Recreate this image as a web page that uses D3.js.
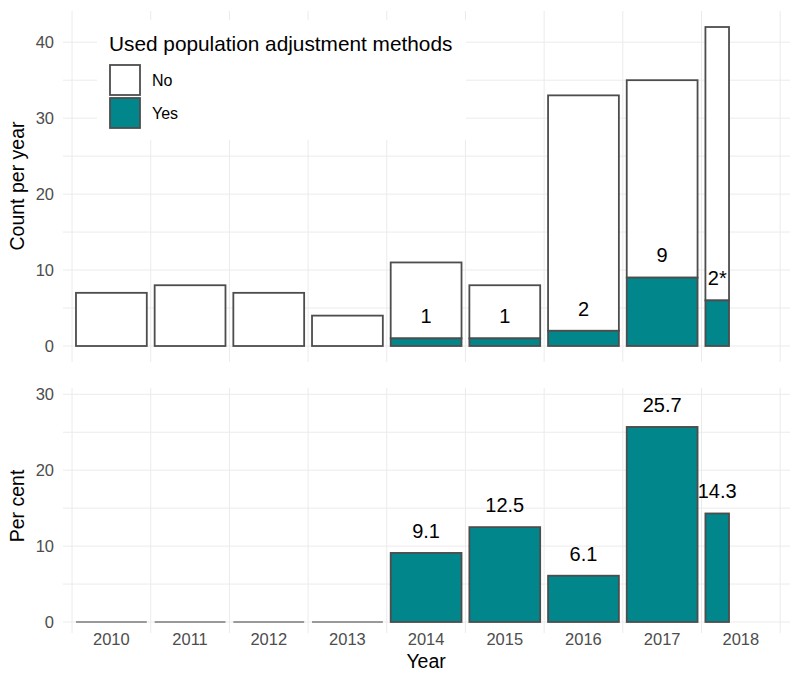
<!DOCTYPE html>
<html><head><meta charset="utf-8">
<script src="https://cdn.jsdelivr.net/npm/d3@7"></script>
<style>body{margin:0;background:#fff}svg{display:block;font-family:"Liberation Sans",Arial,sans-serif}</style>
</head><body><svg id="c" width="800" height="680"></svg>
<script>
const years = [2010,2011,2012,2013,2014,2015,2016,2017,2018];
const total = [7,8,7,4,11,8,33,35,42];
const yes   = [0,0,0,0,1,1,2,9,6];
const percent = [0,0,0,0,9.1,12.5,6.1,25.7,14.3];
const barWidth = [0.9,0.9,0.9,0.9,0.9,0.9,0.9,0.9,0.3];
const countLabels = ["","","","","1","1","2","9","2*"];
const pctLabels = ["","","","","9.1","12.5","6.1","25.7","14.3"];
const yTicksTop = [0,10,20,30,40];
const yTicksBot = [0,10,20,30];
const legendItems = ["No","Yes"];
const teal = "#00868B", edge = "#4d4d4d", grid = "#ebebeb";

const svg = d3.select("#c");
const x = d3.scaleLinear().domain([2009.385, 2018.625]).range([63, 790]);
const yT = d3.scaleLinear().domain([0, 40]).range([346, 42.2]);
const yB = d3.scaleLinear().domain([0, 30]).range([622, 394.3]);

function panel(y, top, bottom, majors, minors) {
  const g = svg.append("g");
  g.selectAll(".hg").data(minors.concat(majors)).join("line")
    .attr("x1", 63).attr("x2", 790).attr("y1", d => y(d)).attr("y2", d => y(d))
    .attr("stroke", grid).attr("stroke-width", 1);
  const vx = d3.range(2009.5, 2019, 1);
  g.selectAll(".vg").data(vx).join("line")
    .attr("x1", d => x(d)).attr("x2", d => x(d)).attr("y1", top).attr("y2", bottom)
    .attr("stroke", grid).attr("stroke-width", 1);
  g.selectAll(".yl").data(majors).join("text")
    .attr("x", 54).attr("y", d => y(d)).attr("dy", "0.36em").attr("text-anchor", "end")
    .attr("font-size", 16.5).attr("fill", "#4d4d4d").text(d => d);
}
panel(yT, 11, 362, yTicksTop, [5,15,25,35]);
panel(yB, 388, 633, yTicksBot, [5,15,25]);

// legend background
svg.append("rect").attr("x", 97).attr("y", 20).attr("width", 369).attr("height", 120).attr("fill", "#fff");

const data = years.map((yr, i) => ({yr, total: total[i], yes: yes[i], pct: percent[i], w: barWidth[i], cl: countLabels[i], pl: pctLabels[i]}));

// top panel bars
const gt = svg.append("g");
gt.selectAll(".no").data(data).join("rect")
  .attr("x", d => x(d.yr - 0.45)).attr("width", d => x(d.yr - 0.45 + d.w) - x(d.yr - 0.45))
  .attr("y", d => yT(d.total)).attr("height", d => yT(d.yes) - yT(d.total))
  .attr("fill", "#fff").attr("stroke", edge).attr("stroke-width", 1.8);
gt.selectAll(".yes").data(data.filter(d => d.yes > 0)).join("rect")
  .attr("x", d => x(d.yr - 0.45)).attr("width", d => x(d.yr - 0.45 + d.w) - x(d.yr - 0.45))
  .attr("y", d => yT(d.yes)).attr("height", d => yT(0) - yT(d.yes))
  .attr("fill", teal).attr("stroke", edge).attr("stroke-width", 1.8);
gt.selectAll(".cl").data(data.filter(d => d.cl)).join("text")
  .attr("x", d => x(d.yr - 0.45 + d.w / 2)).attr("y", d => yT(d.yes + 2))
  .attr("text-anchor", "middle").attr("font-size", 20).attr("fill", "#000").text(d => d.cl);

// bottom panel bars
const gb = svg.append("g");
gb.selectAll(".pz").data(data.filter(d => d.pct === 0)).join("line")
  .attr("x1", d => x(d.yr - 0.45)).attr("x2", d => x(d.yr - 0.45 + d.w))
  .attr("y1", yB(0)).attr("y2", yB(0)).attr("stroke", "#999").attr("stroke-width", 1.8);
gb.selectAll(".pb").data(data.filter(d => d.pct > 0)).join("rect")
  .attr("x", d => x(d.yr - 0.45)).attr("width", d => x(d.yr - 0.45 + d.w) - x(d.yr - 0.45))
  .attr("y", d => yB(d.pct)).attr("height", d => yB(0) - yB(d.pct))
  .attr("fill", teal).attr("stroke", edge).attr("stroke-width", 1.8);
gb.selectAll(".pl").data(data.filter(d => d.pl)).join("text")
  .attr("x", d => x(d.yr - 0.45 + d.w / 2)).attr("y", d => yB(d.pct + 2))
  .attr("text-anchor", "middle").attr("font-size", 20).attr("fill", "#000").text(d => d.pl);

// x tick labels
svg.selectAll(".xl").data(years).join("text")
  .attr("x", d => x(d)).attr("y", 645).attr("text-anchor", "middle")
  .attr("font-size", 16.5).attr("fill", "#4d4d4d").text(d => d);

// axis titles
svg.append("text").attr("x", x(2014)).attr("y", 668).attr("text-anchor", "middle")
  .attr("font-size", 19.5).attr("fill", "#000").text("Year");
svg.append("text").attr("transform", "translate(24,186) rotate(-90)").attr("text-anchor", "middle")
  .attr("font-size", 19.5).attr("fill", "#000").text("Count per year");
svg.append("text").attr("transform", "translate(24,506) rotate(-90)").attr("text-anchor", "middle")
  .attr("font-size", 19.5).attr("fill", "#000").text("Per cent");

// legend
const lg = svg.append("g");
lg.append("text").attr("x", 109).attr("y", 50.5).attr("font-size", 20.8).attr("fill", "#000")
  .text("Used population adjustment methods");
lg.selectAll(".lk").data(legendItems).join("rect")
  .attr("x", 110).attr("y", (d, i) => 65 + i * 33).attr("width", 30).attr("height", 30)
  .attr("fill", d => d === "Yes" ? teal : "#fff").attr("stroke", edge).attr("stroke-width", 1.8);
lg.selectAll(".lt").data(legendItems).join("text")
  .attr("x", 152).attr("y", (d, i) => 80 + i * 33).attr("dy", "0.36em")
  .attr("font-size", 16).attr("fill", "#000").text(d => d);
</script></body></html>
